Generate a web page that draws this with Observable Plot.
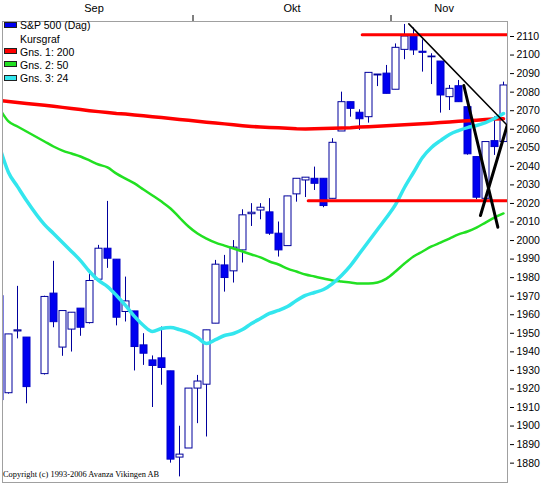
<!DOCTYPE html>
<html><head><meta charset="utf-8">
<script src="https://cdn.jsdelivr.net/npm/d3@7"></script>
<script src="https://cdn.jsdelivr.net/npm/@observablehq/plot@0.6"></script>
<style>
html,body{margin:0;padding:0;background:#fff;}
#chart{position:relative;width:543px;height:483px;overflow:hidden;background:#fff;}
#chart svg{position:absolute;left:0;top:0;}
.row{position:absolute;left:4px;height:13px;line-height:13px;padding-left:16px;white-space:nowrap;font:10.5px "Liberation Sans",Arial,sans-serif;color:#000;}
.sw{position:absolute;left:0;top:2.4px;width:11px;height:4px;border:1px solid #202020;}
#copy{position:absolute;left:3px;top:470px;font:8.4px "Liberation Serif","Times New Roman",serif;color:#000;white-space:nowrap;}
</style></head>
<body><div id="chart"></div>
<script>
// ---- data ----
const dates = ["2015-09-01","2015-09-02","2015-09-03","2015-09-04","2015-09-08","2015-09-09","2015-09-10","2015-09-11","2015-09-14","2015-09-15","2015-09-16","2015-09-17","2015-09-18","2015-09-21","2015-09-22","2015-09-23","2015-09-24","2015-09-25","2015-09-28","2015-09-29","2015-09-30","2015-10-01","2015-10-02","2015-10-05","2015-10-06","2015-10-07","2015-10-08","2015-10-09","2015-10-12","2015-10-13","2015-10-14","2015-10-15","2015-10-16","2015-10-19","2015-10-20","2015-10-21","2015-10-22","2015-10-23","2015-10-26","2015-10-27","2015-10-28","2015-10-29","2015-10-30","2015-11-02","2015-11-03","2015-11-04","2015-11-05","2015-11-06","2015-11-09","2015-11-10","2015-11-11","2015-11-12","2015-11-13","2015-11-16","2015-11-17","2015-11-18"];
const open  = [1970,1917.7,1951.0,1947.7,1928,1971.4,1942.3,1952,1963.3,1955.5,1978.9,1995.6,1989.7,1961.5,1961.8,1943.5,1935.4,1936.5,1929.5,1883,1887.9,1920.2,1922.3,1955.2,1986.6,1983.4,1994.7,2014.2,2016.2,2015.2,2003.7,1997,2024.9,2032.4,2033.3,2033.3,2022.5,2058.8,2074.6,2068.9,2066.5,2089,2090,2081.3,2102.8,2110.5,2101.8,2098.8,2096.5,2077.3,2083.2,2071.9,2045,2022.5,2053.6,2053.1];
const high  = [1970,1949.4,1975.3,1947.7,1970,1988.8,1962,1961.1,1963.3,1982.1,1997.4,2021.1,1989.7,1980.3,1961.8,1949.8,1937.8,1953.4,1929.5,1899.9,1920.2,1927.3,1951.6,1989.3,1992,2000,2016.6,2019.9,2019.9,2022.6,2010,2023.8,2033.3,2033.9,2039.6,2033.3,2054.9,2080,2074.6,2070.5,2090.4,2089.5,2094.4,2106,2116.5,2114.6,2108.2,2100.7,2096.5,2083.6,2086.3,2071.9,2045,2053.1,2066.7,2085.4];
const low   = [1903,1917.2,1947,1912,1927.5,1953,1937.6,1939.9,1948.4,1955,1978.5,1985,1954,1956.1,1929.7,1932.7,1910,1922,1880,1872.6,1887.9,1901.3,1894.1,1955.2,1972.2,1977.1,1987.9,2007.6,2011.2,2002.8,1991.1,1997,2020.7,2023.2,2027,2017.7,2022.5,2058.8,2066.5,2059.4,2063.3,2083,2079.1,2081.3,2097.5,2099.8,2090.8,2084.1,2068.7,2070.1,2074.6,2046,2022,2020.7,2045.9,2053.1];
const close = [1914,1949.4,1951.6,1921,1969.6,1956,1962,1961.1,1953,1978.2,1995.6,1990.2,1958.4,1967.2,1942.6,1939,1932.4,1931.3,1881.9,1884.6,1920.2,1924,1951.6,1987,1979.8,1996.2,2013.6,2015,2017.7,2003.7,1994.7,2023.8,2033.3,2033.9,2030.6,2018.6,2052.7,2074.6,2071,2065.4,2090.4,2089.5,2079.1,2103.9,2110,2102.5,2101.2,2099.2,2078.2,2081.8,2074.6,2046.5,2023.1,2053.1,2050.4,2083.6];
// moving averages (Gns. 1: 200, Gns. 2: 50, Gns. 3: 24), one value per date above
const ma200 = [2075.5,2075,2074.4,2073.9,2073,2072.4,2071.8,2071.2,2070.6,2070,2069.5,2069,2068.5,2068.2,2067.7,2067.3,2066.8,2066.3,2065.8,2065.3,2064.8,2064.3,2063.8,2063.4,2062.9,2062.4,2061.9,2061.5,2061.2,2061,2060.8,2060.6,2060.3,2060.2,2060.3,2060.4,2060.5,2060.7,2060.8,2061.2,2061.4,2061.6,2061.9,2062.1,2062.4,2062.7,2063,2063.3,2063.6,2063.9,2064.3,2064.6,2064.9,2065.2,2065.5,2065.7];
const ma50  = [2071.2,2064.2,2061.5,2058.8,2053.4,2050.7,2048.5,2046.9,2045.3,2043.2,2041,2039.4,2036.1,2033.4,2030.8,2027.5,2024.3,2021,2017.3,2012.4,2007.6,2003.8,2001.1,1998.9,1997.3,1995.7,1994.1,1992.5,1990.9,1988.7,1987.1,1984.9,1983.3,1981.7,1980.6,1979.5,1978.5,1977.9,1977.4,1976.8,1976.8,1977.4,1979.5,1983.3,1987.6,1991.4,1994.1,1996.8,1998.9,2001.1,2003.3,2004.9,2007,2009.7,2012.4,2014.6];
const ma24  = [2050.6,2036.7,2029.1,2021.6,2008.6,2003.8,1998.9,1994.1,1989.2,1983.3,1978.5,1975.2,1970.4,1965,1959.1,1954.2,1951,1952.6,1953.1,1952,1950.4,1947.7,1944.5,1946.6,1948.8,1949.9,1952,1955.3,1958,1960.7,1962.3,1964.4,1967.7,1970.4,1972,1973.6,1976.8,1981.2,1986.5,1993,1999.5,2006,2012.4,2019.4,2028.6,2036.7,2044.8,2050.2,2053.9,2057.2,2059.3,2060.9,2062,2063.6,2065.8,2068.5];
// axis labels
const yTicks = [1880,1890,1900,1910,1920,1930,1940,1950,1960,1970,1980,1990,2000,2010,2020,2030,2040,2050,2060,2070,2080,2090,2100,2110];
const monthNames = ["Sep","Okt","Nov"];
const monthLabelPos = [10.5, 32.5, 49.4];   // in trading-weekday positions
const monthBreaks = [21.5, 43.5];
// drawn levels & trend lines: [weekday position, value]
const levelLines = [
  [[40.3, 2110.9],[56.45, 2110.9]],
  [[34.3, 2021.4],[56.45, 2021.4]]
];
const trendThin  = [[45.48, 2116.8],[56.33, 2062.6]];
const trendThick = [
  [[51.59, 2083.6],[55.37, 2007.2]],
  [[53.44, 2013.5],[56.41, 2062.0]]
];
const legendItems = [["S&P 500 (Dag)","#0000f0"],["Kursgraf",null],["Gns. 1: 200","#ff0000"],["Gns. 2: 50","#22e022"],["Gns. 3: 24","#33e6ee"]];

// ---- build ----
const startDay = Date.UTC(2015, 8, 1);
function weekdayPos(s) {
  const d = Date.parse(s + "T00:00:00Z");
  let n = 0;
  for (let t = startDay; t < d; t += 86400000) {
    const wd = new Date(t).getUTCDay();
    if (wd !== 0 && wd !== 6) n++;
  }
  return n;
}
const rows = dates.map((s, k) => ({
  i: weekdayPos(s), open: open[k], high: high[k], low: low[k], close: close[k],
  ma200: ma200[k], ma50: ma50[k], ma24: ma24[k]
}));
const seg = a => a.map(([i, v]) => ({i, v}));

const half = 3.5 / 9;
const upStroke = "#00009c", downFill = "#0000f0";

const plot = Plot.plot({
  width: 543, height: 483,
  marginLeft: 2, marginRight: 36, marginTop: 21, marginBottom: 1,
  style: {fontFamily: "'Liberation Sans', Arial, sans-serif", fontSize: "10.5px", background: "#fff", color: "#000"},
  x: {type: "linear", domain: [1/3, 56 + 4/9], label: null},
  y: {domain: [1869.57, 2118.09], label: null},
  marks: [
    Plot.axisX({anchor: "top", ticks: monthBreaks, tickSize: 7, tickFormat: () => "", label: null}),
    Plot.axisX({anchor: "top", ticks: monthLabelPos, tickSize: 0, tickPadding: 10, fontSize: 11, label: null,
      tickFormat: d => monthNames[monthLabelPos.indexOf(d)]}),
    Plot.axisY({anchor: "right", ticks: yTicks, tickSize: 4, tickPadding: 3, dx: 2, label: null, tickFormat: d => String(d)}),
    Plot.ruleX(rows, {x: "i", y1: "low", y2: "high", stroke: upStroke, strokeWidth: 1, clip: true}),
    Plot.rect(rows, {
      x1: d => d.i - half, x2: d => d.i + half, y1: "open", y2: "close", dx: 0.5,
      fill: d => d.close >= d.open ? "#ffffff" : downFill,
      stroke: d => d.close >= d.open ? upStroke : "#0000c8", strokeWidth: 1, clip: true
    }),
    Plot.line(rows, {x: "i", y: "ma200", stroke: "#ff0000", strokeWidth: 3.5, clip: true}),
    Plot.line(rows, {x: "i", y: "ma50", stroke: "#22e022", strokeWidth: 2.5, clip: true, curve: "monotone-x"}),
    Plot.line(rows, {x: "i", y: "ma24", stroke: "#33e6ee", strokeWidth: 3.5, clip: true, curve: "monotone-x"}),
    ...levelLines.map(l => Plot.line(seg(l), {x: "i", y: "v", stroke: "#ff0000", strokeWidth: 3, clip: true})),
    Plot.line(seg(trendThin), {x: "i", y: "v", stroke: "#000", strokeWidth: 1.5, clip: true}),
    ...trendThick.map(l => Plot.line(seg(l), {x: "i", y: "v", stroke: "#000", strokeWidth: 3, clip: true})),
    Plot.frame({stroke: "#a0a0a0"})
  ]
});
const chart = document.getElementById("chart");
chart.appendChild(plot);

// legend (HTML overlay)
const tops = [19.3, 32.5, 45.8, 59.0, 72.3];
legendItems.forEach(([label, color], k) => {
  const r = document.createElement("div");
  r.className = "row";
  r.style.top = tops[k] + "px";
  if (color) {
    const s = document.createElement("span");
    s.className = "sw"; s.style.background = color;
    r.appendChild(s);
  }
  r.appendChild(document.createTextNode(label));
  chart.appendChild(r);
});
const c = document.createElement("div");
c.id = "copy";
c.textContent = "Copyright (c) 1993-2006 Avanza Vikingen AB";
chart.appendChild(c);
</script>
</body></html>
